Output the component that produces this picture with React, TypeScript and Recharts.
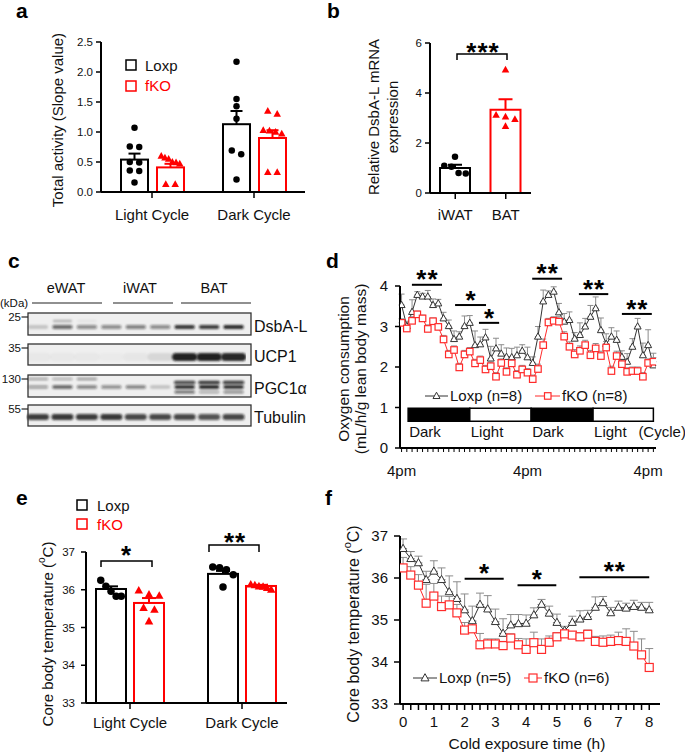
import React from 'react';
import { BarChart, Bar, XAxis, YAxis, LineChart, Line, ErrorBar, ReferenceLine, ReferenceArea } from 'recharts';

const FONT = '"Liberation Sans", Arial, Helvetica, sans-serif';
const RED = '#ff0000';
const LINE_RED = '#ff2b2b';
const DARK = '#333333';
const ERR_GREY = '#8c8c8c';

// ---------- Panel a : total activity ----------
const cycleCategories = ['Light Cycle', 'Dark Cycle'];
const activityLoxpMean = [0.54, 1.13];
const activityLoxpSem = [0.1, 0.22];
const activityLoxpPoints = [
  [1.07, 0.76, 0.75, 0.5, 0.49, 0.36, 0.35, 0.16],
  [2.17, 1.55, 1.43, 1.22, 0.69, 0.63, 0.21],
];
const activityFkoMean = [0.41, 0.9];
const activityFkoSem = [0.06, 0.13];
const activityFkoPoints = [
  [0.6, 0.57, 0.55, 0.5, 0.49, 0.47, 0.13, 0.13],
  [1.35, 1.3, 1.03, 1.02, 1.0, 0.97, 0.33, 0.33],
];
const activityTicks = [0, 0.5, 1, 1.5, 2, 2.5];

// ---------- Panel b : DsbA-L mRNA ----------
const tissueCategories = ['iWAT', 'BAT'];
const dsbaMean = [1.0, 3.33];
const dsbaSem = [0.13, 0.42];
const dsbaPoints = [
  [1.45, 1.09, 1.05, 0.8, 0.78],
  [4.93, 3.12, 3.05, 2.95, 2.67],
];
const dsbaTicks = [0, 2, 4, 6];

// ---------- Panel c : western blot band intensities ----------
const blotLanes = ['eWAT 1', 'eWAT 2', 'eWAT 3', 'iWAT 1', 'iWAT 2', 'iWAT 3', 'BAT 1', 'BAT 2', 'BAT 3'];
const dsbaBandMain = [0.18, 0.6, 0.45, 0.45, 0.5, 0.45, 0.85, 0.8, 0.9];
const dsbaBandUpper = [0, 0.25, 0.05, 0, 0, 0, 0, 0, 0];
const ucp1Band = [0.03, 0.03, 0.03, 0.02, 0.04, 0.1, 0.95, 0.95, 0.92];
const pgcBandUpper = [0.35, 0.3, 0.4, 0, 0, 0, 0, 0, 0];
const pgcBandMain = [0.35, 0.65, 0.5, 0.45, 0.5, 0.2, 0.9, 0.95, 0.9];
const pgcBandBatUpper = [0, 0, 0, 0, 0, 0, 0.75, 0.85, 0.8];
const pgcBandBatLower = [0, 0, 0, 0, 0, 0, 0.6, 0.3, 0.45];
const tubulinBand = [0.8, 0.85, 0.8, 0.85, 0.75, 0.75, 0.75, 0.7, 0.75];

// ---------- Panel d : oxygen consumption ----------
const dHours = [0, 1, 2, 3, 4, 5, 6, 7, 8, 9, 10, 11, 12, 13, 14, 15, 16, 17, 18, 19, 20, 21, 22, 23, 24, 25, 26, 27, 28, 29, 30, 31, 32, 33, 34, 35, 36, 37, 38, 39, 40, 41, 42, 43, 44, 45, 46, 47, 48];
const dLoxp = [3.53, 3.01, 3.36, 3.78, 3.74, 3.74, 3.53, 3.57, 3.2, 3.01, 2.69, 2.75, 3.01, 3.09, 2.54, 2.56, 2.73, 2.21, 2.46, 2.33, 2.25, 2.24, 2.29, 2.4, 2.24, 2.1, 2.75, 3.62, 3.78, 3.86, 3.35, 3.12, 3.16, 2.7, 2.79, 3.0, 3.24, 3.45, 2.91, 2.57, 2.75, 2.67, 2.25, 2.13, 2.5, 3.0, 2.29, 2.54, 2.04];
const dLoxpSem = [0.27, 0.12, 0.3, 0.08, 0.08, 0.15, 0.15, 0.1, 0.15, 0.15, 0.2, 0.12, 0.25, 0.18, 0.35, 0.18, 0.2, 0.3, 0.25, 0.22, 0.22, 0.22, 0.2, 0.15, 0.25, 0.15, 0.25, 0.28, 0.1, 0.12, 0.22, 0.2, 0.2, 0.15, 0.3, 0.2, 0.28, 0.28, 0.3, 0.25, 0.22, 0.22, 0.15, 0.2, 0.2, 0.2, 0.3, 0.38, 0.3];
const dFko = [3.09, 2.95, 3.14, 3.3, 3.2, 2.94, 3.13, 2.99, 2.68, 2.31, 2.42, 1.99, 2.31, 2.38, 2.09, 2.17, 1.94, 2.02, 1.76, 2.1, 1.88, 2.09, 1.81, 1.94, 1.86, 1.7, 1.95, 2.54, 3.1, 3.14, 3.12, 2.75, 2.5, 2.31, 2.4, 2.54, 2.29, 2.46, 2.27, 2.48, 1.9, 2.27, 2.07, 1.88, 1.9, 1.9, 1.76, 2.1, 2.13];
const dFkoSem = [0.1, 0.08, 0.1, 0.08, 0.08, 0.1, 0.08, 0.08, 0.1, 0.1, 0.1, 0.1, 0.1, 0.1, 0.1, 0.1, 0.1, 0.1, 0.1, 0.1, 0.1, 0.1, 0.1, 0.1, 0.1, 0.1, 0.12, 0.15, 0.1, 0.1, 0.12, 0.12, 0.12, 0.12, 0.12, 0.12, 0.12, 0.12, 0.12, 0.15, 0.12, 0.12, 0.1, 0.1, 0.1, 0.1, 0.1, 0.1, 0.1];
const dTickLabelHours = [0, 24, 47];
const cycleLabels = ['Dark', 'Light', 'Dark', 'Light'];
const cycleStart = [1.25, 13, 24.7, 36.5];
const cycleEnd = [13, 24.7, 36.5, 48];
const dSigStart = [1.97, 10.2, 14.75, 24.9, 33.8, 42];
const dSigEnd = [7.7, 16.1, 18.6, 30.6, 39.4, 47.7];
const dSigLevel = [4.03, 3.53, 3.09, 4.18, 3.8, 3.31];
const dSigText = ['**', '*', '*', '**', '**', '**'];

// ---------- Panel e : core body temperature ----------
const tempLoxpMean = [36.02, 36.42];
const tempLoxpSem = [0.07, 0.08];
const tempLoxpPoints = [
  [36.25, 36.09, 35.96, 35.83, 35.83],
  [36.6, 36.58, 36.53, 36.4, 36.07],
];
const tempFkoMean = [35.65, 36.1];
const tempFkoSem = [0.13, 0.03];
const tempFkoPoints = [
  [35.98, 35.87, 35.84, 35.52, 35.47, 35.16],
  [36.14, 36.12, 36.09, 36.08, 36.05, 36.0],
];
const tempTicks = [33, 34, 35, 36, 37];

// ---------- Panel f : cold exposure ----------
const fTimes = [0, 0.25, 0.5, 0.75, 1, 1.25, 1.5, 1.75, 2, 2.25, 2.5, 2.75, 3, 3.25, 3.5, 3.75, 4, 4.25, 4.5, 4.75, 5, 5.25, 5.5, 5.75, 6, 6.25, 6.5, 6.75, 7, 7.25, 7.5, 7.75, 8];
const fLoxp = [36.7, 36.46, 36.36, 35.96, 36.16, 35.96, 35.67, 35.51, 35.24, 34.98, 35.37, 35.26, 34.96, 34.68, 34.88, 34.91, 34.92, 35.12, 35.37, 35.16, 34.94, 34.75, 34.94, 35.02, 35.08, 35.3, 35.41, 35.17, 35.3, 35.28, 35.32, 35.3, 35.24];
const fLoxpSem = [0.23, 0.17, 0.16, 0.2, 0.25, 0.28, 0.38, 0.4, 0.38, 0.35, 0.27, 0.32, 0.3, 0.35, 0.25, 0.22, 0.2, 0.17, 0.12, 0.17, 0.2, 0.1, 0.15, 0.2, 0.15, 0.25, 0.15, 0.13, 0.15, 0.12, 0.15, 0.12, 0.18];
const fFko = [36.24, 36.07, 35.83, 35.4, 35.57, 35.32, 35.36, 35.17, 34.76, 34.79, 34.41, 34.43, 34.43, 34.39, 34.57, 34.41, 34.3, 34.46, 34.3, 34.47, 34.6, 34.67, 34.64, 34.6, 34.66, 34.49, 34.47, 34.49, 34.51, 34.49, 34.38, 34.17, 33.87];
const fFkoSem = [0.25, 0.2, 0.25, 0.45, 0.3, 0.25, 0.2, 0.2, 0.18, 0.18, 0.27, 0.12, 0.12, 0.1, 0.1, 0.15, 0.25, 0.25, 0.25, 0.15, 0.1, 0.08, 0.08, 0.1, 0.1, 0.12, 0.15, 0.15, 0.2, 0.3, 0.35, 0.38, 0.45];
const fTicks = fTimes;
const fYTicks = [33, 34, 35, 36, 37];
const fSigStart = [2.0, 3.72, 5.73];
const fSigEnd = [3.27, 4.98, 8.0];
const fSigLevel = [35.98, 35.83, 36.02];
const fSigText = ['*', '*', '**'];

// ---------- tables built for the library ----------
const activityData = cycleCategories.map((cycle, i) => ({
  cycle,
  loxp: activityLoxpMean[i], loxpSem: activityLoxpSem[i], loxpPts: activityLoxpPoints[i],
  fko: activityFkoMean[i], fkoSem: activityFkoSem[i], fkoPts: activityFkoPoints[i],
}));
const dsbaData = tissueCategories.map((tissue, i) => ({ tissue, mean: dsbaMean[i], sem: dsbaSem[i], pts: dsbaPoints[i] }));
const tempData = cycleCategories.map((cycle, i) => ({
  cycle,
  loxp: tempLoxpMean[i], loxpSem: tempLoxpSem[i], loxpPts: tempLoxpPoints[i],
  fko: tempFkoMean[i], fkoSem: tempFkoSem[i], fkoPts: tempFkoPoints[i],
}));
const o2Data = dHours.map((h, i) => ({ h, loxp: dLoxp[i], loxpErr: [0, dLoxpSem[i]], fko: dFko[i], fkoErr: [0, dFkoSem[i]] }));
const coldData = fTimes.map((t, i) => ({ t, loxp: fLoxp[i], loxpErr: [0, fLoxpSem[i]], fko: fFko[i], fkoErr: [0, fFkoSem[i]] }));

// ---------- helpers ----------
const axisLine = { stroke: '#000', strokeWidth: 2 };
const tickLine = { stroke: '#000', strokeWidth: 1.5 };
const tickStyle = (fs: number) => ({ fill: '#111', fontSize: fs, fontFamily: FONT });

function triPath(cx: number, cy: number, s: number) {
  const h = s * 0.9;
  return `M${cx},${cy - h * 0.6}L${cx + s / 2},${cy + h * 0.4}L${cx - s / 2},${cy + h * 0.4}Z`;
}

function spreadPoints(ys: number[], cx: number, d: number, maxHalf: number) {
  const idx = ys.map((_, i) => i).sort((a, b) => ys[a] - ys[b]);
  const clusters: number[][] = [];
  idx.forEach((i) => {
    const last = clusters[clusters.length - 1];
    if (last && ys[i] - ys[last[last.length - 1]] < d) last.push(i);
    else clusters.push([i]);
  });
  const xs = ys.map(() => cx);
  clusters.forEach((cl) => {
    const n = cl.length;
    if (n < 2) return;
    let step = d * 1.45;
    if (((n - 1) * step) / 2 > maxHalf) step = (2 * maxHalf) / (n - 1);
    cl.forEach((i, j) => {
      xs[i] = cx + (j - (n - 1) / 2) * step;
    });
  });
  return xs;
}

type DotBarOpts = {
  meanKey: string; semKey: string; ptsKey: string; base: number;
  color: (p: any) => string; marker: (p: any) => 'circle' | 'triangle'; size: number; cap: number;
};
function makeDotBar(o: DotBarOpts) {
  return (props: any) => {
    const { x, y, width, height, payload } = props;
    const mean = payload[o.meanKey];
    if (!height || mean === o.base) return <g />;
    const k = height / (mean - o.base);
    const toY = (v: number) => y + height - (v - o.base) * k;
    const cx = x + width / 2;
    const color = o.color(payload);
    const mk = o.marker(payload);
    const ys: number[] = payload[o.ptsKey].map(toY);
    const xs = spreadPoints(ys, cx, o.size, width / 2 - o.size / 2 - 2);
    const eTop = toY(mean + payload[o.semKey]);
    return (
      <g>
        <rect x={x + 1} y={y} width={width - 2} height={height} fill="none" stroke={color} strokeWidth={2} />
        <line x1={cx} y1={y} x2={cx} y2={eTop} stroke={color} strokeWidth={2} />
        <line x1={cx - o.cap} y1={eTop} x2={cx + o.cap} y2={eTop} stroke={color} strokeWidth={2} />
        {ys.map((py, i) =>
          mk === 'circle' ? (
            <circle key={i} cx={xs[i]} cy={py} r={o.size / 2} fill={color} />
          ) : (
            <path key={i} d={triPath(xs[i], py, o.size + 1)} fill={color} />
          )
        )}
      </g>
    );
  };
}

const starLabel = (text: string, gap = 3) => (props: any) => {
  const vb = props.viewBox || { x: 0, y: 0, width: 0 };
  const size = 26;
  return (
    <text x={vb.x + (vb.width || 0) / 2 + 0.5} y={vb.y - gap + size * 0.45} textAnchor="middle" fontSize={size}
      fontWeight="bold" fontFamily={FONT} fill="#000" letterSpacing={1}>
      {text}
    </text>
  );
};

const cycleLabel = (text: string, extra?: string) => (props: any) => {
  const vb = props.viewBox || { x: 0, y: 0, width: 0, height: 0 };
  return (
    <g>
      <text x={vb.x + 1} y={vb.y + vb.height + 16} fontSize={15} fontFamily={FONT} fill="#111">{text}</text>
      {extra ? (
        <text x={vb.x + vb.width - 15} y={vb.y + vb.height + 16} fontSize={15} fontFamily={FONT} fill="#111">{extra}</text>
      ) : null}
    </g>
  );
};

const triDot = (size: number, color: string) => (p: any) => (
  <path key={`t${p.index}`} d={triPath(p.cx, p.cy, size)} fill="#fff" stroke={color} strokeWidth={1} />
);
const sqDot = (size: number, color: string) => (p: any) => (
  <rect key={`s${p.index}`} x={p.cx - size / 2} y={p.cy - size / 2} width={size} height={size} fill="#fff" stroke={color} strokeWidth={1.2} />
);

// ---------- blot rows (band placement is styling) ----------
type Band = { values: number[]; off: number; t: number; w: number };
type BlotRow = { name: string; top: number; height: number; bands: Band[]; marker: string };
const blotRows: BlotRow[] = [
  { name: 'DsbA-L', marker: '25', top: 313, height: 22, bands: [
    { values: dsbaBandMain, off: 14, t: 4, w: 0.85 },
    { values: dsbaBandUpper, off: 8, t: 2.5, w: 0.8 },
  ] },
  { name: 'UCP1', marker: '35', top: 344, height: 21, bands: [
    { values: ucp1Band, off: 13, t: 8, w: 1.05 },
  ] },
  { name: 'PGC1\u03b1', marker: '130', top: 375, height: 22, bands: [
    { values: pgcBandMain, off: 12, t: 3.5, w: 0.85 },
    { values: pgcBandUpper, off: 4, t: 2.5, w: 0.85 },
    { values: pgcBandBatUpper, off: 7.5, t: 3.5, w: 0.9 },
    { values: pgcBandBatLower, off: 17, t: 3, w: 0.85 },
  ] },
  { name: 'Tubulin', marker: '55', top: 405, height: 21, bands: [
    { values: tubulinBand, off: 12, t: 6, w: 0.92 },
  ] },
];

function makeBandShape(row: BlotRow) {
  return (props: any) => {
    const { x, width, payload } = props;
    const i = blotLanes.indexOf(payload.lane);
    const cx = x + width / 2;
    return (
      <g>
        {row.bands.map((b, j) => {
          const v = b.values[i];
          if (!v) return null;
          const w = width * b.w;
          return (
            <rect key={j} x={cx - w / 2} y={b.off - b.t / 2} width={w} height={b.t} rx={b.t / 2}
              fill="#141414" fillOpacity={v} filter="url(#bandBlur)" />
          );
        })}
      </g>
    );
  };
}

function BlotChart({ row }: { row: BlotRow }) {
  const data = blotLanes.map((lane, i) => ({ lane, main: Math.max(row.bands[0].values[i], 0.01) }));
  return (
    <div style={{ position: 'absolute', left: 26, top: row.top }}>
      <BarChart width={220} height={row.height} data={data} margin={{ top: 0, right: 0, bottom: 0, left: 0 }} barCategoryGap={0}>
        <XAxis dataKey="lane" hide />
        <YAxis hide domain={[0, 1]} allowDataOverflow />
        <Bar dataKey="main" isAnimationActive={false} shape={makeBandShape(row)} />
      </BarChart>
    </div>
  );
}

const Pos = ({ left, top, children }: { left: number; top: number; children: React.ReactNode }) => (
  <div style={{ position: 'absolute', left, top }}>{children}</div>
);

export default function App() {
  return (
    <div style={{ position: 'absolute', left: 0, top: 0, width: 685, height: 754, background: '#fff', fontFamily: FONT, overflow: 'hidden' }}>
      {/* Panel a */}
      <Pos left={0} top={0}>
        <BarChart width={340} height={240} data={activityData} margin={{ top: 42, right: 35, bottom: 18, left: 61 }} barSize={29} barGap={7}>
          <XAxis dataKey="cycle" interval={0} axisLine={axisLine} tickLine={tickLine} tickSize={6} tickMargin={11} height={30} tick={tickStyle(15)} />
          <YAxis domain={[0, 2.5]} ticks={activityTicks} interval={0} allowDataOverflow width={40} axisLine={axisLine} tickLine={tickLine}
            tickSize={5} tickMargin={3} tick={tickStyle(11.5)} tickFormatter={(v: number) => v.toFixed(1)} />
          <Bar dataKey="loxp" isAnimationActive={false} shape={makeDotBar({ meanKey: 'loxp', semKey: 'loxpSem', ptsKey: 'loxpPts', base: 0, color: () => '#000', marker: () => 'circle', size: 6.5, cap: 6 })} />
          <Bar dataKey="fko" isAnimationActive={false} shape={makeDotBar({ meanKey: 'fko', semKey: 'fkoSem', ptsKey: 'fkoPts', base: 0, color: () => RED, marker: () => 'triangle', size: 6.5, cap: 6 })} />
        </BarChart>
      </Pos>

      {/* Panel b */}
      <Pos left={340} top={0}>
        <BarChart width={200} height={240} data={dsbaData} margin={{ top: 43, right: 9, bottom: 17, left: 50 }} barSize={32}>
          <XAxis dataKey="tissue" interval={0} axisLine={axisLine} tickLine={tickLine} tickSize={6} tickMargin={10} height={30} tick={tickStyle(15)} />
          <YAxis domain={[0, 6]} ticks={dsbaTicks} interval={0} allowDataOverflow width={40} axisLine={axisLine} tickLine={tickLine}
            tickSize={5} tickMargin={3} tick={tickStyle(11.5)} />
          <Bar dataKey="mean" isAnimationActive={false} shape={makeDotBar({
            meanKey: 'mean', semKey: 'sem', ptsKey: 'pts', base: 0,
            color: (p: any) => (p.tissue === 'BAT' ? RED : '#000'),
            marker: (p: any) => (p.tissue === 'BAT' ? 'triangle' : 'circle'), size: 6.5, cap: 7 })} />
        </BarChart>
      </Pos>

      {/* Panel c background boxes */}
      {blotRows.map((r) => (
        <div key={r.name} style={{ position: 'absolute', left: 28, top: r.top, width: 223, height: r.height, background: '#efefef' }} />
      ))}
      {blotRows.map((r) => (
        <BlotChart key={r.name} row={r} />
      ))}

      {/* Panel d */}
      <Pos left={340} top={250}>
        <LineChart width={345} height={240} data={o2Data} margin={{ top: 36, right: 29, bottom: 12, left: 20 }}>
          <XAxis dataKey="h" type="number" domain={[-0.3, 48.5]} allowDataOverflow ticks={dHours} interval={0}
            tickFormatter={(v: number) => (dTickLabelHours.includes(v) ? '4pm' : '')}
            axisLine={axisLine} tickLine={{ stroke: '#000', strokeWidth: 1 }} tickSize={4} tickMargin={13} height={30} tick={tickStyle(15)} />
          <YAxis domain={[0, 4]} ticks={[0, 1, 2, 3, 4]} interval={0} allowDataOverflow width={40} axisLine={axisLine} tickLine={tickLine}
            tickSize={5} tickMargin={7} tick={tickStyle(15)} />
          {cycleLabels.map((c, i) => (
            <ReferenceArea key={`cy${i}`} x1={cycleStart[i]} x2={cycleEnd[i]} y1={0.66} y2={0.98} ifOverflow="visible"
              fill={c === 'Dark' ? '#000' : '#fff'} fillOpacity={1} stroke="#000" strokeWidth={1.5}
              label={cycleLabel(c, i === cycleLabels.length - 1 ? '(Cycle)' : undefined)} />
          ))}
          {dSigText.map((s, i) => (
            <ReferenceLine key={`ds${i}`} segment={[{ x: dSigStart[i], y: dSigLevel[i] }, { x: dSigEnd[i], y: dSigLevel[i] }]}
              stroke="#000" strokeWidth={2} ifOverflow="visible" label={starLabel(s, 8)} />
          ))}
          <Line dataKey="loxp" type="linear" stroke={DARK} strokeWidth={1} isAnimationActive={false} dot={triDot(7, DARK)} activeDot={false}>
            <ErrorBar dataKey="loxpErr" width={3} stroke={ERR_GREY} strokeWidth={1} direction="y" isAnimationActive={false} />
          </Line>
          <Line dataKey="fko" type="linear" stroke={LINE_RED} strokeWidth={1} isAnimationActive={false} dot={sqDot(6.5, LINE_RED)} activeDot={false}>
            <ErrorBar dataKey="fkoErr" width={3} stroke={ERR_GREY} strokeWidth={1} direction="y" isAnimationActive={false} />
          </Line>
        </LineChart>
      </Pos>

      {/* Panel e */}
      <Pos left={0} top={490}>
        <BarChart width={340} height={264} data={tempData} margin={{ top: 62, right: 53, bottom: 21, left: 46 }} barSize={32} barGap={6}>
          <XAxis dataKey="cycle" interval={0} padding={{ left: -12, right: -11 }} axisLine={axisLine} tickLine={tickLine} tickSize={6} tickMargin={8} height={30} tick={tickStyle(15)} />
          <YAxis domain={[33, 37]} ticks={tempTicks} interval={0} allowDataOverflow width={40} axisLine={axisLine} tickLine={tickLine}
            tickSize={5} tickMargin={6} tick={tickStyle(11.5)} />
          <Bar dataKey="loxp" isAnimationActive={false} shape={makeDotBar({ meanKey: 'loxp', semKey: 'loxpSem', ptsKey: 'loxpPts', base: 33, color: () => '#000', marker: () => 'circle', size: 7.5, cap: 7 })} />
          <Bar dataKey="fko" isAnimationActive={false} shape={makeDotBar({ meanKey: 'fko', semKey: 'fkoSem', ptsKey: 'fkoPts', base: 33, color: () => RED, marker: () => 'triangle', size: 7.5, cap: 7 })} />
        </BarChart>
      </Pos>

      {/* Panel f */}
      <Pos left={340} top={490}>
        <LineChart width={345} height={264} data={coldData} margin={{ top: 46, right: 25, bottom: 20, left: 20 }}>
          <XAxis dataKey="t" type="number" domain={[-0.1, 8.35]} allowDataOverflow ticks={fTicks} interval={0}
            tickFormatter={(v: number) => (Number.isInteger(v) ? String(v) : '')}
            axisLine={axisLine} tickLine={tickLine} tickSize={6} tickMargin={6} height={30} tick={tickStyle(15)} />
          <YAxis domain={[33, 37]} ticks={fYTicks} interval={0} allowDataOverflow width={40} axisLine={axisLine} tickLine={tickLine}
            tickSize={6} tickMargin={6} tick={tickStyle(15)} />
          {fSigText.map((s, i) => (
            <ReferenceLine key={`fs${i}`} segment={[{ x: fSigStart[i], y: fSigLevel[i] }, { x: fSigEnd[i], y: fSigLevel[i] }]}
              stroke="#000" strokeWidth={2} ifOverflow="visible" label={starLabel(s, 9)} />
          ))}
          <Line dataKey="loxp" type="linear" stroke={DARK} strokeWidth={1} isAnimationActive={false} dot={triDot(8, DARK)} activeDot={false}>
            <ErrorBar dataKey="loxpErr" width={4} stroke={ERR_GREY} strokeWidth={1} direction="y" isAnimationActive={false} />
          </Line>
          <Line dataKey="fko" type="linear" stroke={LINE_RED} strokeWidth={1} isAnimationActive={false} dot={sqDot(8, LINE_RED)} activeDot={false}>
            <ErrorBar dataKey="fkoErr" width={4} stroke={ERR_GREY} strokeWidth={1} direction="y" isAnimationActive={false} />
          </Line>
        </LineChart>
      </Pos>

      {/* Overlay: panel letters, axis titles, legends, annotations */}
      <svg width={685} height={754} style={{ position: 'absolute', left: 0, top: 0, pointerEvents: 'none' }} fontFamily={FONT}>
        <defs>
          <filter id="bandBlur" x="-30%" y="-150%" width="160%" height="400%">
            <feGaussianBlur stdDeviation="1.1" />
          </filter>
        </defs>
        {/* panel letters */}
        <g fontSize={21} fontWeight="bold" fill="#000">
          <text x={16} y={18}>a</text>
          <text x={327} y={18}>b</text>
          <text x={8} y={268}>c</text>
          <text x={326} y={268}>d</text>
          <text x={16} y={505}>e</text>
          <text x={325} y={505}>f</text>
        </g>

        {/* a */}
        <text transform="translate(57,120) rotate(-90)" textAnchor="middle" dominantBaseline="central" fontSize={15} fill="#111">Total activity (Slope value)</text>
        <rect x={126} y={60} width={10} height={10} fill="none" stroke="#000" strokeWidth={1.5} />
        <text x={145} y={71} fontSize={15} fill="#111">Loxp</text>
        <rect x={126} y={81} width={10} height={10} fill="none" stroke={RED} strokeWidth={1.5} />
        <text x={145} y={91} fontSize={15} fill={RED}>fKO</text>

        {/* b */}
        <text transform="translate(373,117) rotate(-90)" textAnchor="middle" dominantBaseline="central" fontSize={15} fill="#111">Relative DsbA-L mRNA</text>
        <text transform="translate(392,117) rotate(-90)" textAnchor="middle" dominantBaseline="central" fontSize={15} fill="#111">expression</text>
        <path d="M457,60V54H507V60" fill="none" stroke="#000" strokeWidth={1.5} />
        <text x={483} y={61} textAnchor="middle" fontSize={26} fontWeight="bold" letterSpacing={1}>***</text>

        {/* c */}
        <g fontSize={14.5} fill="#111" textAnchor="middle">
          <text x={66} y={293}>eWAT</text>
          <text x={140} y={293}>iWAT</text>
          <text x={214} y={293}>BAT</text>
        </g>
        <g stroke="#222" strokeWidth={1.2}>
          <line x1={32} y1={303} x2={102} y2={303} />
          <line x1={113} y1={303} x2={173} y2={303} />
          <line x1={181} y1={303} x2={251} y2={303} />
        </g>
        <text x={0} y={307} fontSize={11.5} fill="#111">(kDa)</text>
        {blotRows.map((r) => (
          <g key={r.name}>
            <rect x={28} y={r.top} width={223} height={r.height} fill="none" stroke="#333" strokeWidth={1.3} />
            <text x={21} y={r.top + 8} fontSize={11.5} textAnchor="end" fill="#111">{r.marker}</text>
            <line x1={21.5} y1={r.top + 4} x2={28} y2={r.top + 4} stroke="#222" strokeWidth={1.2} />
            <text x={254} y={r.top + r.height - 3} fontSize={16} fill="#111">{r.name}</text>
          </g>
        ))}

        {/* d */}
        <text transform="translate(343,369) rotate(-90)" textAnchor="middle" dominantBaseline="central" fontSize={15.5} fill="#111">Oxygen consumption</text>
        <text transform="translate(360,369) rotate(-90)" textAnchor="middle" dominantBaseline="central" fontSize={15.5} fill="#111">(mL/h/g lean body mass)</text>
        <line x1={425} y1={396} x2={448} y2={396} stroke={DARK} strokeWidth={1} />
        <path d={triPath(436.5, 396, 7)} fill="#fff" stroke={DARK} strokeWidth={1} />
        <text x={450} y={401} fontSize={15} fill="#111">Loxp (n=8)</text>
        <line x1={535} y1={396} x2={560} y2={396} stroke={LINE_RED} strokeWidth={1} />
        <rect x={544.5} y={392.7} width={6.5} height={6.5} fill="#fff" stroke={LINE_RED} strokeWidth={1.2} />
        <text x={562} y={401} fontSize={15} fill="#111">fKO (n=8)</text>

        {/* e */}
        <text transform="translate(47,634) rotate(-90)" textAnchor="middle" dominantBaseline="central" fontSize={15} fill="#111">
          <tspan>Core body temperature (</tspan>
          <tspan fontSize={10} dy={-6}>o</tspan>
          <tspan dy={6}>C)</tspan>
        </text>
        <rect x={77} y={500} width={10} height={10} fill="none" stroke="#000" strokeWidth={1.5} />
        <text x={97} y={511} fontSize={15} fill="#111">Loxp</text>
        <rect x={77} y={519} width={10} height={10} fill="none" stroke={RED} strokeWidth={1.5} />
        <text x={97} y={530} fontSize={15} fill={RED}>fKO</text>
        <path d="M101,567V561H152V567" fill="none" stroke="#000" strokeWidth={1.5} />
        <text x={126} y={564} textAnchor="middle" fontSize={26} fontWeight="bold">*</text>
        <path d="M209,552V545H259V552" fill="none" stroke="#000" strokeWidth={1.5} />
        <text x={235} y={551} textAnchor="middle" fontSize={26} fontWeight="bold" letterSpacing={1}>**</text>

        {/* f */}
        <text transform="translate(353,624) rotate(-90)" textAnchor="middle" dominantBaseline="central" fontSize={16} fill="#111">
          <tspan>Core body temperature (</tspan>
          <tspan fontSize={11} dy={-6}>o</tspan>
          <tspan dy={6}>C)</tspan>
        </text>
        <text x={527} y={749} textAnchor="middle" fontSize={15.5} fill="#111">Cold exposure time (h)</text>
        <line x1={413} y1={678} x2={437} y2={678} stroke={DARK} strokeWidth={1} />
        <path d={triPath(425, 678, 8)} fill="#fff" stroke={DARK} strokeWidth={1} />
        <text x={439} y={683} fontSize={15} fill="#111">Loxp (n=5)</text>
        <line x1={524} y1={678} x2={542} y2={678} stroke={LINE_RED} strokeWidth={1} />
        <rect x={529} y={674} width={8} height={8} fill="#fff" stroke={LINE_RED} strokeWidth={1.2} />
        <text x={544} y={683} fontSize={15} fill="#111">fKO (n=6)</text>
      </svg>
    </div>
  );
}
